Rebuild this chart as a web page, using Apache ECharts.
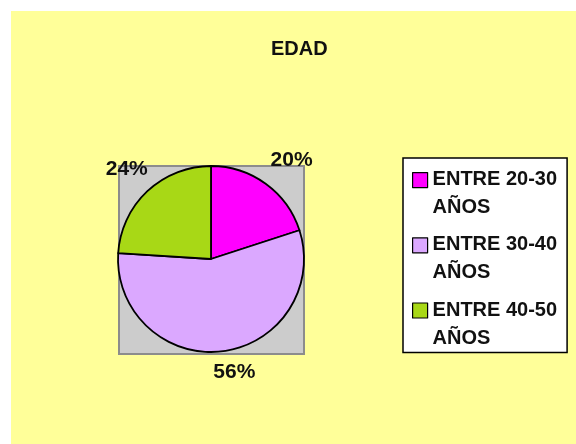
<!DOCTYPE html>
<html>
<head>
<meta charset="utf-8">
<script src="https://cdn.jsdelivr.net/npm/echarts@6/dist/echarts.min.js"></script>
<style>
  html, body { margin: 0; padding: 0; background: #fff; }
  #chart { width: 576px; height: 444px; }
</style>
</head>
<body>
<div id="chart"></div>
<script>
const categories = ['ENTRE 20-30 AÑOS', 'ENTRE 30-40 AÑOS', 'ENTRE 40-50 AÑOS']
const values = [20, 56, 24]
const colors = ['#ff00ff', '#dba8ff', '#a8d816']

const CX = 211
const CY = 259
const R = 93
const total = values.reduce((a, b) => a + b, 0)

const chart = echarts.init(document.getElementById('chart'))
const font = 'Liberation Sans, Arial, sans-serif'

// legend square sits beside the first text line, not centred on both lines
const legendIcon = 'path://M0,7L15,7L15,22L0,22Z M0,0L0,0 M0,56L0,56'

chart.setOption({
  animation: false,
  graphic: [
    {
      type: 'rect',
      z: -10,
      shape: { x: 11, y: 11, width: 565, height: 433 },
      style: { fill: '#ffff99' },
    },
    {
      type: 'rect',
      z: -5,
      shape: { x: 119, y: 166, width: 185, height: 188 },
      style: { fill: '#cccccc', stroke: '#8c8c8c', lineWidth: 2 },
    },
  ],
  title: {
    text: 'EDAD',
    left: 266,
    top: 34,
    textStyle: { fontFamily: font, fontSize: 20, fontWeight: 'bold', color: '#111' },
  },
  legend: {
    orient: 'vertical',
    left: 403,
    top: 158,
    padding: [7, 10, 0, 9],
    itemGap: 8,
    itemWidth: 15,
    itemHeight: 56,
    backgroundColor: '#ffffff',
    borderColor: '#000',
    borderWidth: 1.5,
    icon: legendIcon,
    itemStyle: { borderColor: '#000', borderWidth: 1.2 },
    formatter: (name) => name.replace(' AÑOS', '\nAÑOS'),
    textStyle: { fontFamily: font, fontSize: 20, fontWeight: 'bold', color: '#111', lineHeight: 28 },
  },
  series: [{
    type: 'pie',
    center: [CX, CY],
    radius: R,
    startAngle: 90,
    clockwise: true,
    data: categories.map((name, i) => ({ name, value: values[i], itemStyle: { color: colors[i] } })),
    itemStyle: { borderColor: '#000', borderWidth: 1.8 },
    label: {
      position: 'outside',
      formatter: '{c}%',
      fontFamily: font,
      fontSize: 21,
      fontWeight: 'bold',
      color: '#111',
    },
    labelLine: { show: false },
    // place each label on the slice's middle angle, just clear of the rim
    labelLayout: (params) => {
      const i = params.dataIndex
      const before = values.slice(0, i).reduce((a, b) => a + b, 0)
      const mid = (before + values[i] / 2) / total * Math.PI * 2
      const dx = Math.sin(mid)
      const dy = -Math.cos(mid)
      const w = params.labelRect.width
      const h = params.labelRect.height
      const d = R + 8 + Math.abs(dx) * w / 2 + Math.abs(dy) * h / 2
      const nudge = dx > 0 ? 9 : 0
      return { x: CX + dx * d + nudge, y: CY + dy * d, align: 'center', verticalAlign: 'middle' }
    },
    emphasis: { disabled: true },
  }],
})
</script>
</body>
</html>
